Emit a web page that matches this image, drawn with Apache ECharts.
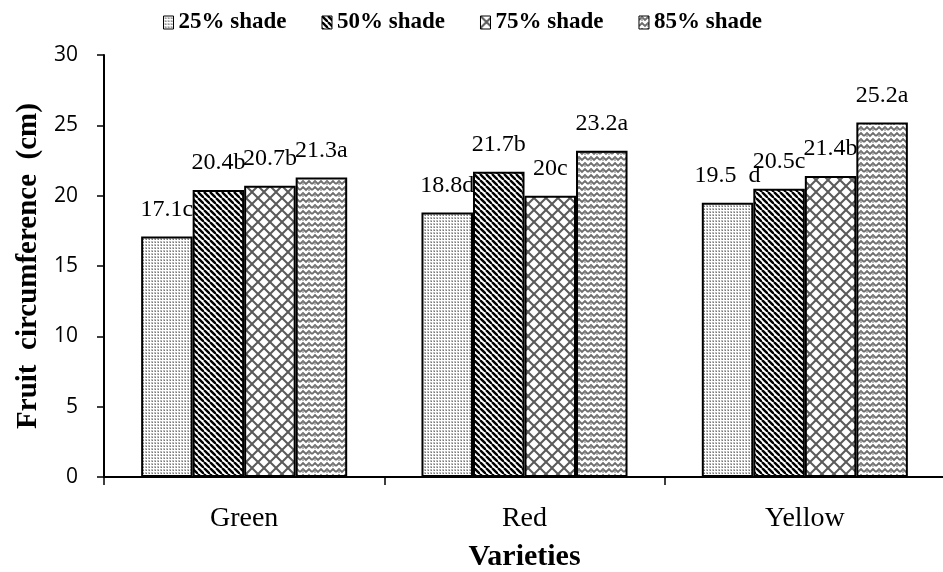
<!DOCTYPE html>
<html>
<head>
<meta charset="utf-8">
<script src="https://cdn.jsdelivr.net/npm/echarts@6/dist/echarts.min.js"></script>
<style>
html,body{margin:0;padding:0;background:#fff;}
#chart{width:943px;height:572px;}
</style>
</head>
<body>
<div id="chart"></div>
<script>
// ---- data ----
const categories = ['Green', 'Red', 'Yellow'];
const seriesNames = ['25% shade', '50% shade', '75% shade', '85% shade'];
const shade25 = [17.1, 18.8, 19.5];
const shade50 = [20.4, 21.7, 20.5];
const shade75 = [20.7, 20.0, 21.4];
const shade85 = [21.3, 23.2, 25.2];
const labels25 = ['17.1c', '18.8d', '19.5  d'];
const labels50 = ['20.4b', '21.7b', '20.5c'];
const labels75 = ['20.7b', '20c', '21.4b'];
const labels85 = ['21.3a', '23.2a', '25.2a'];
const yTicks = { min: 0, max: 30, interval: 5 };

// ---- patterns ----
function makeTile(w, h, draw) {
  const c = document.createElement('canvas');
  c.width = w; c.height = h;
  const g = c.getContext('2d');
  g.fillStyle = '#fff';
  g.fillRect(0, 0, w, h);
  draw(g, w, h);
  return c;
}
const dotTile = makeTile(3, 3, (g) => {
  g.fillStyle = '#bdbdbd'; g.fillRect(1, 1, 2, 2);
  g.fillStyle = '#777'; g.fillRect(2, 2, 1, 1);
});
const stripeTile = makeTile(6, 6, (g) => {
  g.strokeStyle = '#000'; g.lineWidth = 2.4;
  for (let k = -2; k <= 2; k++) {
    g.beginPath(); g.moveTo(k * 6, 0); g.lineTo(k * 6 + 6, 6); g.stroke();
  }
});
const crossTile = makeTile(12, 12, (g) => {
  g.strokeStyle = '#5a5a5a'; g.lineWidth = 2;
  for (let k = -1; k <= 1; k++) {
    g.beginPath(); g.moveTo(k * 12, 0); g.lineTo(k * 12 + 12, 12); g.stroke();
    g.beginPath(); g.moveTo(k * 12 + 12, 0); g.lineTo(k * 12, 12); g.stroke();
  }
});
const weaveTile = makeTile(12, 12, (g) => {
  g.strokeStyle = '#6e6e6e'; g.lineWidth = 1.8;
  for (let r = -1; r <= 2; r++) {
    const y0 = r * 6;
    g.beginPath();
    g.moveTo(0, y0 + 4); g.lineTo(3, y0 + 1); g.lineTo(6, y0 + 4); g.lineTo(9, y0 + 1); g.lineTo(12, y0 + 4);
    g.stroke();
  }
  g.strokeStyle = '#888'; g.lineWidth = 1.2;
  g.beginPath(); g.moveTo(3, 1); g.lineTo(3, 5); g.moveTo(9, 7); g.lineTo(9, 11); g.stroke();
});
const patterns = [dotTile, stripeTile, crossTile, weaveTile];

const serif = '"Liberation Serif", "Times New Roman", serif';
const valueSets = [shade25, shade50, shade75, shade85];
const labelSets = [labels25, labels50, labels75, labels85];

const series = seriesNames.map((name, i) => ({
  name: name,
  type: 'bar',
  barGap: '0%',
  barCategoryGap: '26.5%',
  data: valueSets[i],
  itemStyle: {
    color: { image: patterns[i], repeat: 'repeat' },
    borderColor: '#000',
    borderWidth: 2
  },
  label: {
    show: true,
    position: 'top',
    distance: 15,
    fontFamily: serif,
    fontSize: 24,
    color: '#000',
    formatter: (p) => labelSets[i][p.dataIndex]
  },
  emphasis: { disabled: true }
}));

const chart = echarts.init(document.getElementById('chart'), null, { renderer: 'canvas' });
chart.setOption({
  animation: false,
  backgroundColor: '#fff',
  legend: {
    top: 6,
    left: 158,
    icon: 'rect',
    itemWidth: 10,
    itemHeight: 13,
    itemGap: 35,
    textStyle: { fontFamily: serif, fontWeight: 'bold', fontSize: 23, color: '#000' },
    itemStyle: { borderColor: '#000', borderWidth: 1 },
    data: seriesNames
  },
  grid: { left: 104, top: 55, width: 841, height: 422, containLabel: false, outerBoundsMode: 'none' },
  xAxis: {
    type: 'category',
    data: categories,
    name: 'Varieties',
    nameLocation: 'middle',
    nameGap: 65,
    nameTextStyle: { fontFamily: serif, fontWeight: 'bold', fontSize: 30, color: '#000' },
    axisLine: { lineStyle: { color: '#000', width: 2 } },
    axisTick: { show: true, length: 8, lineStyle: { color: '#000', width: 1.5 } },
    axisLabel: { fontFamily: serif, fontSize: 28, color: '#000', margin: 28 },
    splitLine: { show: false }
  },
  yAxis: {
    type: 'value',
    min: yTicks.min,
    max: yTicks.max,
    interval: yTicks.interval,
    name: 'Fruit  circumference  (cm)',
    nameLocation: 'middle',
    nameGap: 53,
    nameRotate: 90,
    nameTextStyle: { fontFamily: serif, fontWeight: 'bold', fontSize: 29, color: '#000' },
    axisLine: { show: true, lineStyle: { color: '#000', width: 2 } },
    axisTick: { show: true, length: 7, lineStyle: { color: '#000', width: 1.5 } },
    axisLabel: { fontFamily: '"Open Sans", "Noto Sans", sans-serif', fontSize: 21, color: '#000', margin: 26 },
    splitLine: { show: false }
  },
  series: series
});
</script>
</body>
</html>
